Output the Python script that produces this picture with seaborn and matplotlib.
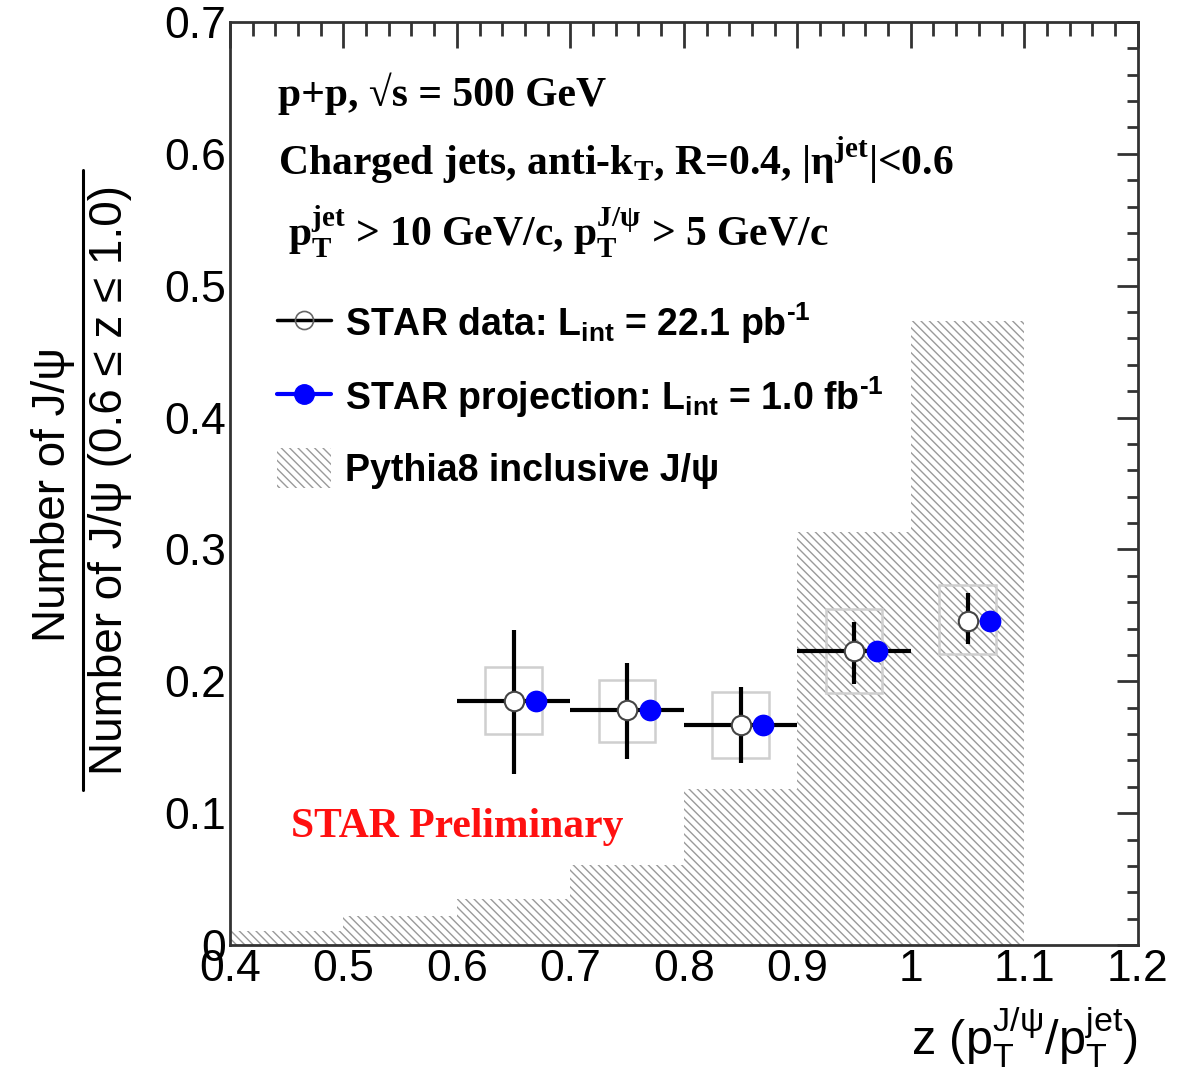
import numpy as np
import seaborn as sns
import matplotlib.pyplot as plt
from matplotlib.lines import Line2D
from matplotlib.patches import Patch
from matplotlib.ticker import MultipleLocator, FuncFormatter

# Pythia8 inclusive J/psi histogram
pythia_edges = [0.4, 0.5, 0.6, 0.7, 0.8, 0.9, 1.0, 1.1]
pythia_vals = [0.011, 0.022, 0.035, 0.061, 0.118, 0.313, 0.473]

# STAR data points
z_vals = [0.65, 0.75, 0.85, 0.95, 1.05]
data_y = [0.185, 0.178, 0.167, 0.223, 0.246]
stat_hi = [0.239, 0.214, 0.196, 0.245, 0.267]
stat_lo = [0.130, 0.141, 0.138, 0.198, 0.228]
sys_hi = [0.211, 0.201, 0.192, 0.255, 0.273]
sys_lo = [0.160, 0.154, 0.142, 0.191, 0.221]
z_halfwidth = [0.05, 0.05, 0.05, 0.05, 0.0]

# STAR projection (shifted for visibility)
proj_z = [0.67, 0.77, 0.87, 0.97, 1.07]
proj_y = [0.185, 0.178, 0.167, 0.223, 0.246]

sns.set_style("white")
plt.rcParams['font.family'] = ['Liberation Sans', 'DejaVu Sans']
plt.rcParams['text.color'] = 'black'
plt.rcParams['xtick.color'] = '#333333'
plt.rcParams['ytick.color'] = '#333333'
plt.rcParams['mathtext.fontset'] = 'custom'
plt.rcParams['mathtext.rm'] = 'Liberation Serif:bold'
plt.rcParams['mathtext.bf'] = 'Liberation Sans:bold'
plt.rcParams['mathtext.sf'] = 'Liberation Sans'
plt.rcParams['hatch.linewidth'] = 1.0

fig = plt.figure(figsize=(11.79, 10.82), dpi=100)
ax = fig.add_axes([0.195, 0.1266, 0.770, 0.8531])

hatch_col = '#9a9a9a'
centers = [(a + b) / 2 for a, b in zip(pythia_edges[:-1], pythia_edges[1:])]
sns.histplot(x=centers, weights=pythia_vals, bins=pythia_edges, element='bars',
             fill=True, facecolor='none', edgecolor=hatch_col, linewidth=0,
             hatch='\\\\\\\\', ax=ax, zorder=1)

# systematic boxes
sys_lo_a = np.array(sys_lo)
sys_hi_a = np.array(sys_hi)
ax.bar(z_vals, sys_hi_a - sys_lo_a, bottom=sys_lo_a, width=0.05, fill=False,
       edgecolor='#cfcfcf', linewidth=1.8, zorder=2)

y = np.array(data_y)
yerr = [y - np.array(stat_lo), np.array(stat_hi) - y]
ax.errorbar(z_vals, data_y, xerr=z_halfwidth, yerr=yerr, fmt='o', color='black',
            elinewidth=3, capsize=0, ms=14, mfc='white', mec='#444444', mew=1.5,
            zorder=3)

sns.scatterplot(x=proj_z, y=proj_y, color='blue', edgecolor='blue', s=210,
                ax=ax, zorder=4, legend=False)

ax.set_xlim(0.4, 1.2)
ax.set_ylim(0, 0.7)
ax.set_xlabel('')
ax.set_ylabel('')
ax.xaxis.set_major_locator(MultipleLocator(0.1))
ax.xaxis.set_minor_locator(MultipleLocator(0.02))
ax.yaxis.set_major_locator(MultipleLocator(0.1))
ax.yaxis.set_minor_locator(MultipleLocator(0.02))
fmt = FuncFormatter(lambda v, p: f'{v:g}')
ax.xaxis.set_major_formatter(fmt)
ax.yaxis.set_major_formatter(fmt)
ax.tick_params(axis='both', which='both', direction='in', top=True, right=True,
               color='#333333', width=2, labelsize=32, labelcolor='black')
ax.tick_params(axis='x', which='major', length=19, pad=3)
ax.tick_params(axis='x', which='minor', length=10)
ax.tick_params(axis='y', which='major', length=15, pad=3)
ax.tick_params(axis='y', which='minor', length=8)
for s in ax.spines.values():
    s.set_color('#333333')
    s.set_linewidth(2)

# header text
serif = dict(family=['Liberation Serif', 'DejaVu Serif'], weight='bold', fontsize=30)
ax.text(0.053, 0.909, 'p+p, √s = 500 GeV', transform=ax.transAxes, va='baseline', **serif)
ax.text(0.053, 0.835, r'Charged jets, anti-k$_\mathrm{T}$, R=0.4, |η$^\mathrm{jet}$|<0.6',
        transform=ax.transAxes, va='baseline', **serif)
ax.text(0.064, 0.758, r'p$_\mathrm{T}^\mathrm{jet}$ > 10 GeV/c, p$_\mathrm{T}^\mathrm{J/ψ}$ > 5 GeV/c',
        transform=ax.transAxes, va='baseline', **serif)
ax.text(0.067, 0.117, 'STAR Preliminary', transform=ax.transAxes, va='baseline',
        color='#ff1010', **serif)

# legend
handles = [
    Line2D([0], [0], color='black', lw=2.5, marker='o', ms=13, mfc='none', mec='#666666', mew=1.2),
    Line2D([0], [0], color='blue', lw=3, marker='o', ms=14, mfc='blue', mec='blue'),
    Patch(facecolor='none', edgecolor=hatch_col, linewidth=0, hatch='\\\\\\\\'),
]
labels = [
    r'STAR data: L$_\mathbf{int}$ = 22.1 pb$^\mathbf{‐1}$',
    r'STAR projection: L$_\mathbf{int}$ = 1.0 fb$^\mathbf{‐1}$',
    'Pythia8 inclusive J/ψ',
]
ax.legend(handles, labels, loc='upper left', bbox_to_anchor=(0.052, 0.698),
          frameon=False, borderpad=0, borderaxespad=0, handlelength=1.45,
          handleheight=1.25, handletextpad=0.35, labelspacing=0.75,
          prop=dict(family='Liberation Sans', weight='bold', size=27))

# axis titles
ax.text(1.0, -0.119, r'z (p$_\mathsf{T}^\mathsf{J/ψ}$/p$_\mathsf{T}^\mathsf{jet}$)',
        transform=ax.transAxes, ha='right', va='baseline', fontsize=35)
fig.text(53 / 1179, 1 - 495 / 1082, 'Number of J/ψ', rotation=90, ha='center',
         va='center', fontsize=33)
fig.text(110 / 1179, 1 - 480 / 1082, 'Number of J/ψ (0.6 ≤ z ≤ 1.0)', rotation=90,
         ha='center', va='center', fontsize=33)
fig.add_artist(Line2D([83 / 1179, 83 / 1179], [1 - 170 / 1082, 1 - 790 / 1082],
                      color='black', lw=2.2, transform=fig.transFigure))

plt.savefig('out.png', dpi=100)
